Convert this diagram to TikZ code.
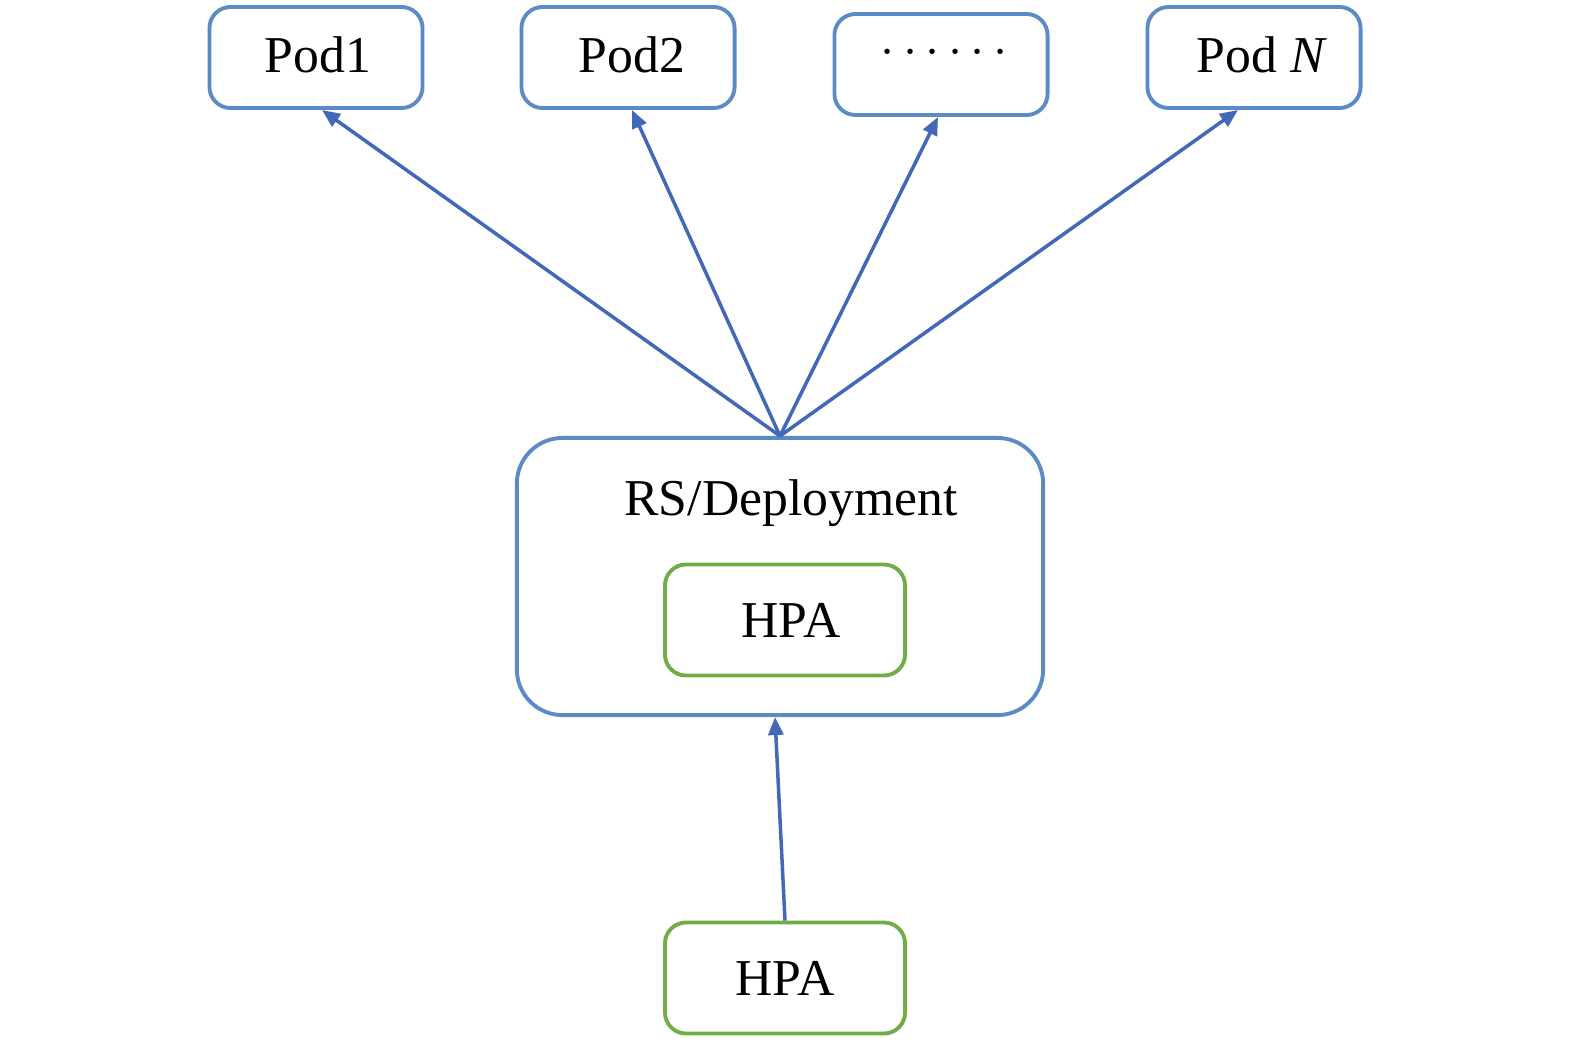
\documentclass[tikz,border=0pt]{standalone}
\usepackage{fontspec}
\setmainfont{Liberation Serif}
\usepackage{tikz}
\usetikzlibrary{arrows.meta,positioning}
\definecolor{cBox}{HTML}{5B8BC5}
\definecolor{cArr}{HTML}{4468B8}
\definecolor{cHpa}{HTML}{70AD47}
\tikzset{
  podbox/.style={rounded corners=6pt,draw=cBox,line width=1.1pt,fill=white,
                 minimum width=2.13cm,minimum height=1.01cm,inner sep=0pt},
  rsbox/.style={rounded corners=13pt,draw=cBox,line width=1.1pt,
                minimum width=5.26cm,minimum height=2.77cm,inner sep=0pt},
  hpabox/.style={rounded corners=6pt,draw=cHpa,line width=1.1pt,fill=white,
                 minimum width=2.4cm,minimum height=1.11cm,inner sep=0pt},
  txt/.style={font=\fontsize{14.7}{17}\selectfont,inner sep=0pt},
  scalearrow/.style={-{Triangle[length=1.8mm,width=1.5mm]},line width=1pt,cArr},
}
\begin{document}
\begin{tikzpicture}[x=0.01cm,y=-0.01cm]
  \useasboundingbox (0,0) rectangle (1575,1045);
  % pods on top
  \node[podbox] (pod1) at (316,57.5) {};
  \node[podbox] (pod2) at (628,57.5) {};
  \node[podbox] (podDots) at (941,64.5) {};
  \node[podbox] (podN) at (1254,57.5) {};
  \node[txt] (pod1t) at (318,55) {Pod1};
  \node[txt] (pod2t) at (632,55) {Pod2};
  \node[txt] (podDotst) at (944,53) {$\cdots\cdots$};
  \node[txt] (podNt) at (1262,55) {Pod \textit{N}};
  % controller
  \node[rsbox] (rs) at (780,576.5) {};
  \node[txt] (rst) at (791,503) {RS/Deployment};
  \node[hpabox] (hpaIn) at (785,620) {};
  \node[txt] (hpaInt) at (791,620) {HPA};
  \node[hpabox] (hpa) at (785,978) {};
  \node[txt] (hpat) at (785,978) {HPA};
  % arrows
  \draw[scalearrow] (rs.north) -- ([xshift=0.06cm]pod1.south);
  \draw[scalearrow] (rs.north) -- ([xshift=0.04cm]pod2.south);
  \draw[scalearrow] (rs.north) -- ([xshift=-0.03cm]podDots.south);
  \draw[scalearrow] (rs.north) -- ([xshift=-0.16cm]podN.south);
  \draw[scalearrow] (hpa.north) -- ([xshift=-0.05cm]rs.south);
\end{tikzpicture}
\end{document}
